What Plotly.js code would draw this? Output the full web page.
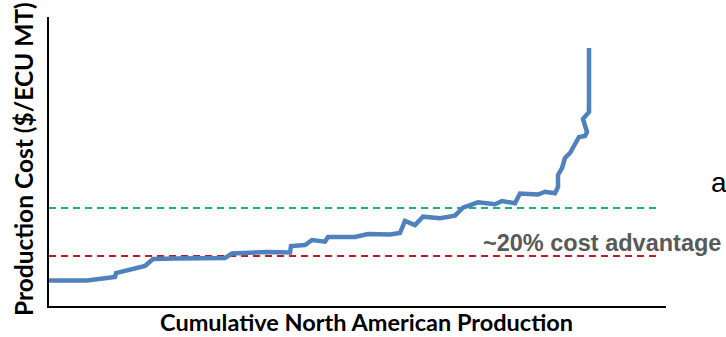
<!DOCTYPE html>
<html>
<head>
<meta charset="utf-8">
<script src="https://cdn.plot.ly/plotly-3.0.1.min.js"></script>
<style>html,body{margin:0;padding:0;background:#fff;}#chart{width:726px;height:337px;}</style>
</head>
<body>
<div id="chart"></div>
<script>
// Cumulative production (arbitrary units) and production cost (arbitrary units)
var cumulativeProduction = [0, 38, 66, 67, 96, 104, 126, 176, 183, 218, 241, 242, 256, 263, 276, 279, 306, 319, 341, 351, 356, 366, 374, 391, 406, 414, 429, 446, 453, 466, 471, 489, 496, 506, 509, 509, 513, 516, 521, 528, 530, 536, 538, 534, 540, 540];
var productionCost = [25.5, 25.5, 29, 33, 40, 47, 47.5, 48, 52.5, 54, 53.5, 60, 61, 66, 64.3, 69, 69, 72, 71.5, 73, 85, 81, 89.3, 87.7, 90.3, 98.3, 103.7, 101.7, 105, 102.7, 112.5, 111.5, 114.3, 112.7, 119, 131, 138, 148, 153, 166, 169, 170, 174, 187, 194, 258];
var advantageExtent = [0, 608];
var highCostLevel = [98, 98];
var lowCostLevel = [50, 50];
var advantageLabel = "~20% cost advantage";

var traces = [
  {x: advantageExtent, y: highCostLevel, mode: 'lines', line: {color: '#1DB07A', width: 2, dash: '7px,5px'}, hoverinfo: 'skip'},
  {x: advantageExtent, y: lowCostLevel, mode: 'lines', line: {color: '#BF2026', width: 2, dash: '7px,5px'}, hoverinfo: 'skip'},
  {x: cumulativeProduction, y: productionCost, mode: 'lines', line: {color: '#4F81BD', width: 4.5, shape: 'linear'}}
];

var layout = {
  width: 726, height: 337,
  margin: {l: 49, r: 60, t: 17, b: 31},
  paper_bgcolor: '#fff', plot_bgcolor: '#fff',
  showlegend: false,
  xaxis: {range: [0, 617], showgrid: false, zeroline: false, showticklabels: false, ticks: '',
          showline: true, linecolor: '#000', linewidth: 2, fixedrange: true},
  yaxis: {range: [0, 289], showgrid: false, zeroline: false, showticklabels: false, ticks: '',
          showline: true, linecolor: '#000', linewidth: 2, fixedrange: true},
  annotations: [
    {text: '<b>Cumulative North American Production</b>', xref: 'paper', yref: 'paper',
     x: (366 - 49) / 617, y: (306 - 322) / 289, xanchor: 'center', yanchor: 'middle', showarrow: false,
     font: {family: 'Lato', size: 23.5, color: '#000'}},
    {text: '<b>Production Cost ($/ECU MT)</b>', xref: 'paper', yref: 'paper', textangle: -90,
     x: (23 - 49) / 617, y: (306 - 159) / 289, xanchor: 'center', yanchor: 'middle', showarrow: false,
     font: {family: 'Lato', size: 24.5, color: '#000'}},
    {text: '<b>' + advantageLabel + '</b>', xref: 'paper', yref: 'paper',
     x: (481 - 49) / 617, y: (306 - 243) / 289, xanchor: 'left', yanchor: 'middle', showarrow: false,
     font: {family: 'Liberation Sans', size: 23.5, color: '#595959'}},
    {text: 'a', xref: 'paper', yref: 'paper',
     x: (709 - 49) / 617, y: (306 - 182) / 289, xanchor: 'left', yanchor: 'middle', showarrow: false,
     font: {family: 'Liberation Sans', size: 28, color: '#000'}}
  ]
};

Plotly.newPlot('chart', traces, layout, {displayModeBar: false, staticPlot: true});
</script>
</body>
</html>
